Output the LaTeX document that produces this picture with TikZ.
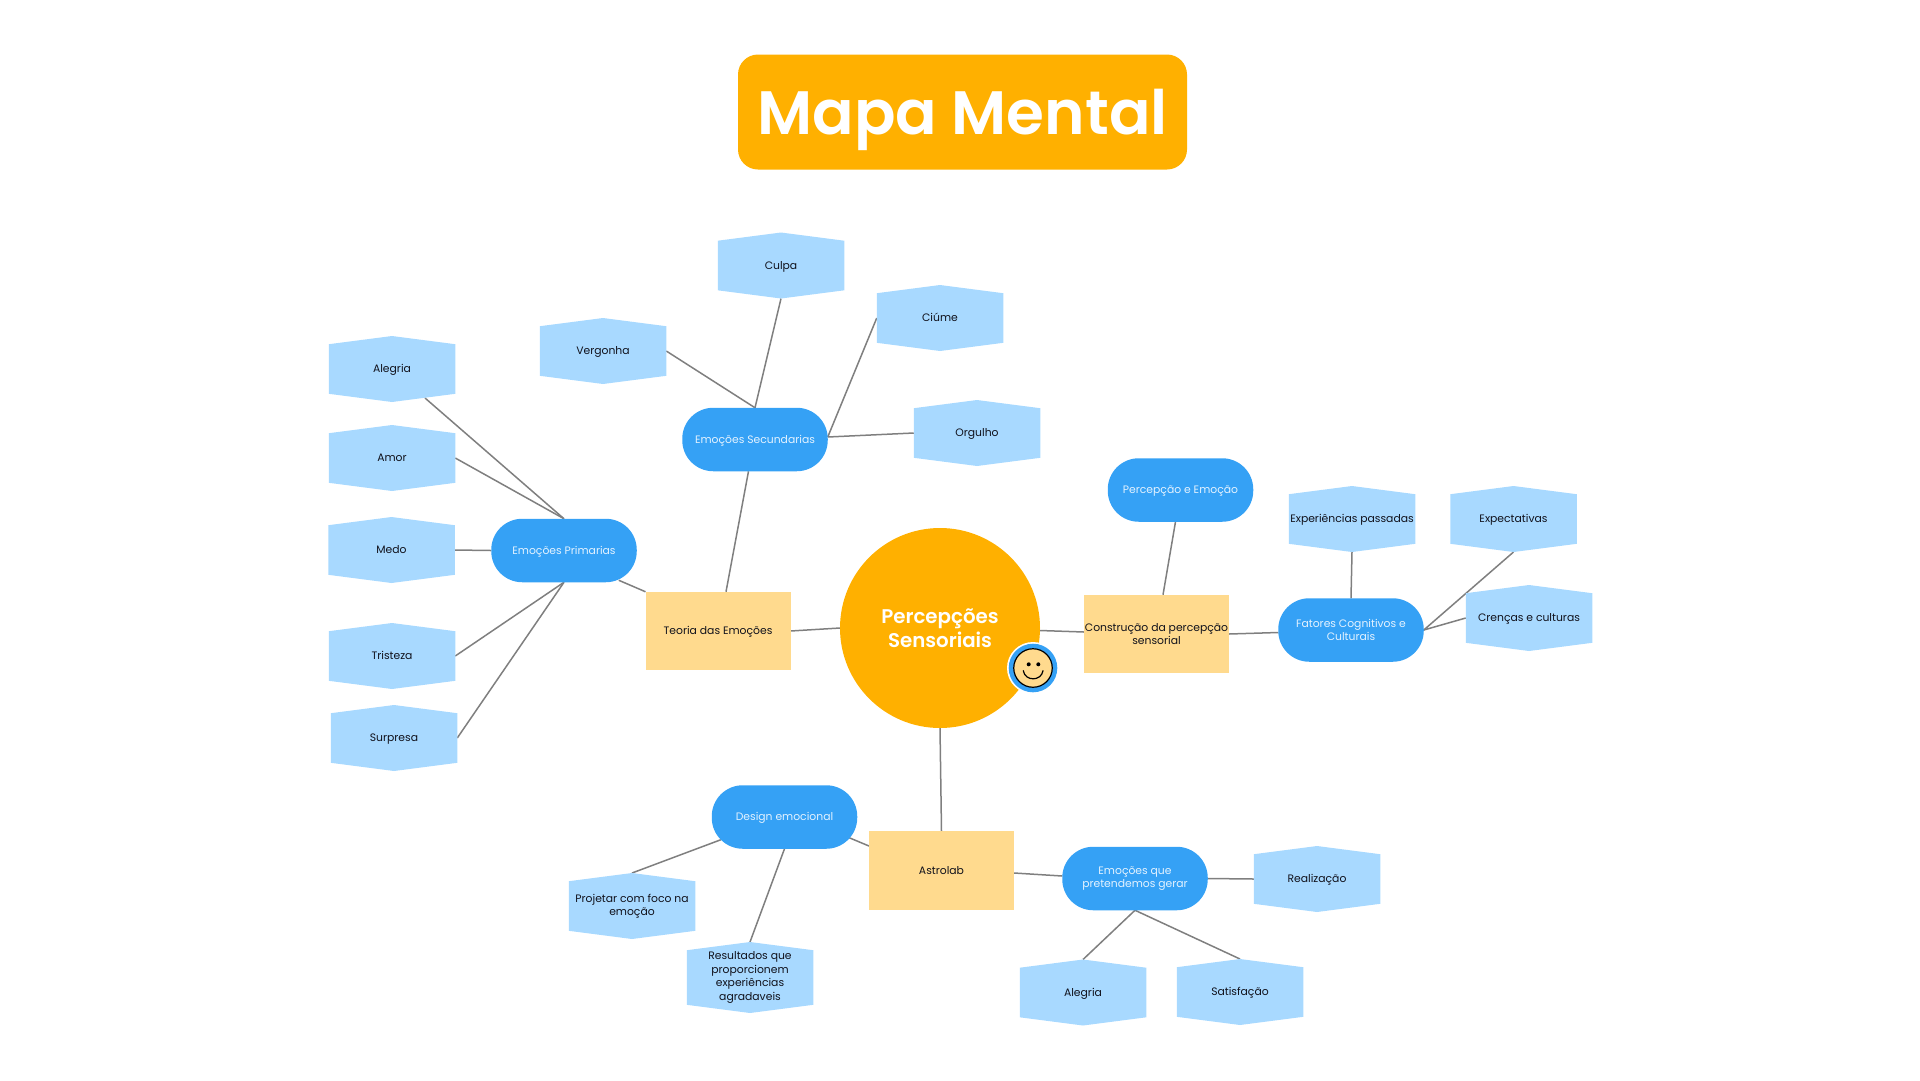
\documentclass[tikz,border=0pt]{standalone}
\usepackage{fontspec}
\setmainfont{Poppins}
\newfontfamily\headfont{Poppins SemiBold}
\usetikzlibrary{backgrounds,calc}
\definecolor{orangeM}{HTML}{FFB000}
\definecolor{blueM}{HTML}{35A1F5}
\definecolor{skyM}{HTML}{A8D9FF}
\definecolor{sandM}{HTML}{FFDA8E}
\definecolor{lineM}{HTML}{7F7F7F}
\definecolor{inkM}{HTML}{11121C}
\definecolor{paleM}{HTML}{E3F2FF}
\tikzset{
  x=1pt,y=-1pt,
  every node/.style={inner sep=0pt,outer sep=0pt,align=center,font=\fontsize{10.8}{13.4}\selectfont,text=inkM},
  hexa/.style={rectangle,minimum width=126.5pt,minimum height=66pt,
    path picture={\fill[skyM]
      ($(path picture bounding box.north west)+(0,-8.2pt)$) -- (path picture bounding box.north)
      -- ($(path picture bounding box.north east)+(0,-8.2pt)$) -- ($(path picture bounding box.south east)+(0,8.2pt)$) -- (path picture bounding box.south)
      -- ($(path picture bounding box.south west)+(0,8.2pt)$) -- cycle;}},
  hexatall/.style={hexa,minimum height=71pt},
  pill/.style={rectangle,rounded corners=31pt,fill=blueM,minimum width=145.5pt,minimum height=63.5pt,text=paleM},
  card/.style={rectangle,fill=sandM,minimum width=145pt,minimum height=78.5pt},
  link/.style={draw=lineM,line width=1.5pt},
  oneline/.style={text height=9.5pt,text depth=2.5pt},
}
\begin{document}
\begin{tikzpicture}
\useasboundingbox (0,0) rectangle (1920,1080);
% title
\node[rectangle,rounded corners=20pt,fill=orangeM,minimum width=449pt,minimum height=115pt,text=white,font=\fontsize{61.3}{70}\headfont,text height=56pt,text depth=12pt] (title) at (962.5,112) {Mapa Mental};
% centre
\node[circle,fill=orangeM,minimum size=200pt,text=white,font=\fontsize{19.8}{24}\headfont] (core) at (940,628) {Percepções\\Sensoriais};
% smiley
\node[circle,fill=white,minimum size=52pt] (smileA) at (1033,668) {};
\node[circle,fill=blueM,minimum size=48.6pt] (smileB) at (1033,668) {};
\node[circle,fill=sandM,draw=black,line width=1.2pt,minimum size=38.5pt] (smileC) at (1033,668) {};
\fill[black] (1028.7,664.3) circle[radius=2pt] (1038.3,664.3) circle[radius=2pt];
\draw[black,line width=1.2pt,line cap=round] (1023.3,670.7) .. controls (1025,681.5) and (1041.3,681.5) .. (1043,670.7);
% cards
\node[card,oneline] (teoria) at (718,631) {Teoria das Emoções};
\node[card] (constr) at (1156.5,634) {Construção da percepção\\sensorial};
\node[card,oneline] (astro) at (941.5,870.5) {Astrolab};
% pills
\node[pill,oneline] (sec) at (755,439.5) {Emoções Secundarias};
\node[pill,oneline] (pri) at (564,550.5) {Emoções Primarias};
\node[pill,oneline] (pee) at (1180.5,490) {Percepção e Emoção};
\node[pill] (fat) at (1351,630) {Fatores Cognitivos e\\Culturais};
\node[pill] (pre) at (1135,878.5) {Emoções que\\pretendemos gerar};
\node[pill,oneline] (des) at (784.5,817) {Design emocional};
% hexagons
\node[hexa,oneline] (culpa) at (781,265.5) {Culpa};
\node[hexa,oneline] (verg) at (603,351) {Vergonha};
\node[hexa,oneline] (ciume) at (940,318) {Ciúme};
\node[hexa,oneline] (orgu) at (977,433) {Orgulho};
\node[hexa,oneline] (aleg) at (392,369) {Alegria};
\node[hexa,oneline] (amor) at (392,458) {Amor};
\node[hexa,oneline] (medo) at (391.5,550) {Medo};
\node[hexa,oneline] (tris) at (392,656) {Tristeza};
\node[hexa,oneline] (surp) at (394,738) {Surpresa};
\node[hexa,oneline] (expa) at (1352,519) {Experiências passadas};
\node[hexa,oneline] (expe) at (1513.5,519) {Expectativas};
\node[hexa,oneline] (cren) at (1529,618) {Crenças e culturas};
\node[hexa,oneline] (real) at (1317,879) {Realização};
\node[hexa,oneline] (aleb) at (1083,992.5) {Alegria};
\node[hexa,oneline] (sati) at (1240,992) {Satisfação};
\node[hexa] (proj) at (632,906) {Projetar com foco na\\emoção};
\node[hexatall] (resu) at (750,977.5) {Resultados que\\proporcionem\\experiências\\agradaveis};
% connectors
\begin{scope}[on background layer]
\draw[link] (teoria.east) -- (core.west);
\draw[link] ([yshift=-2.5pt]core.east) -- ([yshift=2pt]constr.west);
\draw[link] (core.south) -- (astro.north);
\draw[link] (teoria.north west) -- ([xshift=-18pt,yshift=2pt]pri.south east);
\draw[link] ([xshift=8pt]teoria.north) -- ([xshift=-6.5pt]sec.south);
\draw[link] (sec.north) -- (culpa.south);
\draw[link] (sec.north) -- (verg.east);
\draw[link] ([yshift=2.5pt]sec.east) -- (ciume.west);
\draw[link] ([yshift=2.5pt]sec.east) -- (orgu.west);
\draw[link] (pri.north) -- ([xshift=33pt,yshift=4pt]aleg.south);
\draw[link] (pri.north) -- (amor.east);
\draw[link] (pri.west) -- (medo.east);
\draw[link] (pri.south) -- (tris.east);
\draw[link] (pri.south) -- (surp.east);
\draw[link] ([xshift=6.5pt]constr.north) -- ([xshift=-5pt]pee.south);
\draw[link] (constr.east) -- ([yshift=-2.5pt]fat.west);
\draw[link] (fat.north) -- (expa.south);
\draw[link] (fat.east) -- (expe.south);
\draw[link] (fat.east) -- (cren.west);
\draw[link] ([yshift=-2.5pt]astro.east) -- ([yshift=2.5pt]pre.west);
\draw[link] (pre.east) -- (real.west);
\draw[link] (pre.south) -- (aleb.north);
\draw[link] (pre.south) -- (sati.north);
\draw[link] ([yshift=24.5pt]astro.west) -- ([xshift=-8pt,yshift=11pt]des.south east);
\draw[link] ([xshift=9pt,yshift=9pt]des.south west) -- (proj.north);
\draw[link] (des.south) -- (resu.north);
\end{scope}
\end{tikzpicture}
\end{document}
